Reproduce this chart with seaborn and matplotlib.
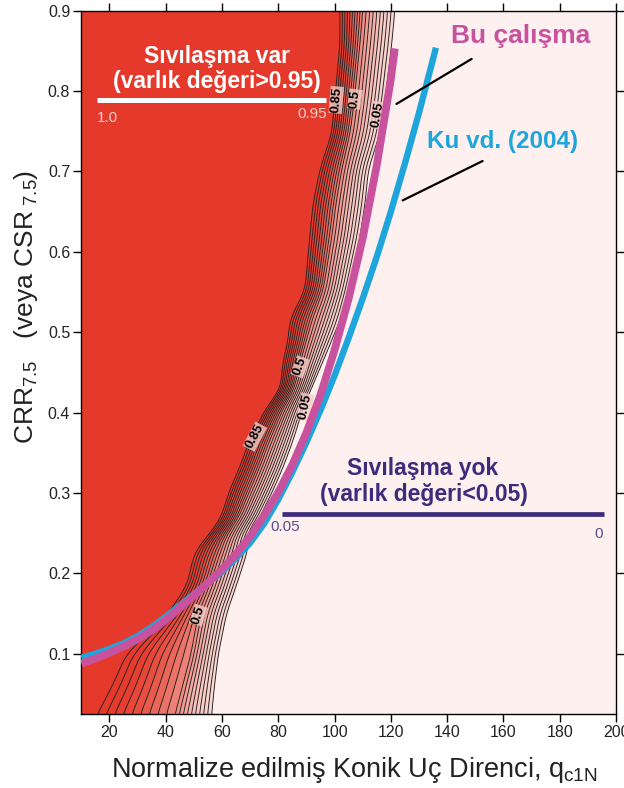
import numpy as np
import pandas as pd
import matplotlib
matplotlib.use("Agg")
import matplotlib.pyplot as plt
import seaborn as sns
from matplotlib.colors import to_rgb

# ---------------- data ----------------
# probability band: CRR level, q at P=0.95 (left edge), P=0.5, P=0.05 (right edge)
band_crr = [0.02, 0.06, 0.10, 0.15, 0.184, 0.227, 0.25, 0.2665, 0.304, 0.333, 0.366, 0.407,
            0.428, 0.465, 0.49, 0.515, 0.553, 0.619, 0.66, 0.702, 0.748, 0.789, 0.859, 0.90]
band_q95 = [15.0, 21.0, 26.1, 40.9, 47.4, 50.4, 55.7, 59.3, 62.8, 66.4, 69.9, 75.9,
            80.6, 81.8, 83.5, 84.1, 89.5, 91.2, 92.4, 94.8, 99.0, 100.1, 101.9, 101.9]
band_q50 = [43.0, 46.0, 49.0, 51.6, 55.5, 59.5, 62.0, 65.5, 70.0, 73.5, 77.0, 82.0,
            85.5, 88.0, 90.0, 92.0, 96.0, 99.0, 100.5, 102.5, 105.5, 107.0, 109.0, 110.0]
band_q05 = [56.2, 57.3, 58.7, 61.6, 65.0, 69.0, 69.8, 72.9, 78.2, 81.8, 85.3, 88.9,
            91.5, 96.0, 99.0, 101.9, 104.8, 109.0, 110.8, 112.0, 116.1, 117.9, 120.3, 121.4]

# curves
bu_q = [10, 15, 20, 25, 30, 35, 40, 45, 50, 55, 60, 65, 70, 75, 80, 85, 90, 95,
        100, 105, 110, 115, 120, 121.4]
bu_crr = [0.088, 0.094, 0.101, 0.109, 0.118, 0.129, 0.142, 0.157, 0.172, 0.188, 0.205,
          0.224, 0.246, 0.272, 0.301, 0.335, 0.375, 0.422, 0.478, 0.542, 0.617, 0.708,
          0.815, 0.853]
ku_q = [10, 15, 20, 25, 30, 35, 40, 45, 50, 55, 60, 65, 70, 75, 80, 85, 90, 95,
        100, 105, 110, 115, 120, 125, 130, 135, 136]
ku_crr = [0.095, 0.100, 0.106, 0.113, 0.122, 0.133, 0.146, 0.160, 0.174, 0.188, 0.202,
          0.219, 0.238, 0.262, 0.292, 0.326, 0.363, 0.403, 0.446, 0.493, 0.542, 0.594,
          0.650, 0.710, 0.773, 0.840, 0.854]

# contour labels (text, q, crr, angle)
clab_text = ["0.85", "0.5", "0.05", "0.85", "0.5", "0.05", "0.5"]
clab_q = [100.6, 107.2, 115.4, 71.7, 87.7, 89.5, 51.6]
clab_crr = [0.789, 0.790, 0.770, 0.370, 0.457, 0.407, 0.148]
clab_rot = [85, 82, 80, 62, 70, 78, 73]

# legend bars
var_bar_q = [15.5, 96.9]
var_bar_crr = [0.789, 0.789]
yok_bar_q = [81.2, 195.7]
yok_bar_crr = [0.274, 0.274]

# pointer lines
bu_ptr_q = [122.0, 148.7]
bu_ptr_crr = [0.784, 0.840]
ku_ptr_q = [124.2, 152.6]
ku_ptr_crr = [0.664, 0.713]

x_ticks = [20, 40, 60, 80, 100, 120, 140, 160, 180, 200]
y_ticks = [0.1, 0.2, 0.3, 0.4, 0.5, 0.6, 0.7, 0.8, 0.9]
levels = [0.05, 0.10, 0.15, 0.20, 0.25, 0.30, 0.35, 0.40, 0.45, 0.50,
          0.55, 0.60, 0.65, 0.70, 0.75, 0.80, 0.85, 0.90, 0.95]

RED = "#e5392b"
PINK = "#fdf0ef"
MAG = "#c9529f"
CYAN = "#1ea5dc"
PURP = "#3d2b7c"

# ---------------- style ----------------
sns.set_theme(style="ticks")
plt.rcParams["font.family"] = ["Liberation Sans", "DejaVu Sans"]
plt.rcParams["mathtext.fontset"] = "custom"
plt.rcParams["mathtext.rm"] = "Liberation Sans"
plt.rcParams["mathtext.it"] = "Liberation Sans"
plt.rcParams["mathtext.bf"] = "Liberation Sans:bold"

fig = plt.figure(figsize=(6.24, 7.88), dpi=100)
L, R, T, B = 81.3, 616.0, 10.7, 714.0
ax = fig.add_axes([L / 624, 1 - B / 788, (R - L) / 624, (B - T) / 788])

# ---------------- probability field ----------------
qg = np.linspace(10, 200, 1400)
cg = np.linspace(0.0, 0.92, 700)


def smooth_edge(vals):
    e = np.interp(cg, band_crr, vals)
    k = 21
    w = np.ones(k) / k
    pad = np.pad(e, k // 2, mode="edge")
    return np.convolve(pad, w, mode="valid")


xl = smooth_edge(band_q95)
xm = smooth_edge(band_q50)
xr = smooth_edge(band_q05)
P = np.empty((cg.size, qg.size))
for i in range(cg.size):
    P[i] = np.interp(qg, [xl[i] - 2.0, xl[i], xm[i], xr[i], xr[i] + 2.0],
                     [1.0, 0.95, 0.5, 0.05, 0.0])

fill_levels = [0.0] + levels + [1.0001]
c0 = np.array(to_rgb("#f8d6d1"))
c1 = np.array(to_rgb(RED))
cols = [PINK]
n = len(levels) - 1
for k in range(n):
    t = k / (n - 1)
    t = t * t * (3 - 2 * t)
    cols.append(tuple(c0 * (1 - t) + c1 * t))
cols.append(RED)
ax.contourf(qg, cg, P, levels=fill_levels, colors=cols, zorder=0, antialiased=True)
ax.contour(qg, cg, P, levels=levels, colors="#221a1a", linewidths=0.65, zorder=1)

for t, q, c, r in zip(clab_text, clab_q, clab_crr, clab_rot):
    ax.text(q, c, t, rotation=r, ha="center", va="center", fontsize=9.5,
            fontweight="bold", color="black", zorder=2,
            bbox=dict(boxstyle="square,pad=0.05", fc="#f6cdc8", ec="none", alpha=0.8))

# ---------------- curves ----------------
sns.lineplot(x=ku_q, y=ku_crr, ax=ax, color=CYAN, lw=4.6, sort=False, estimator=None,
             solid_capstyle="butt", zorder=3)
sns.lineplot(x=bu_q, y=bu_crr, ax=ax, color=MAG, lw=5.6, sort=False, estimator=None,
             solid_capstyle="butt", zorder=3)

ax.plot(bu_ptr_q, bu_ptr_crr, color="black", lw=1.6, zorder=4)
ax.plot(ku_ptr_q, ku_ptr_crr, color="black", lw=1.6, zorder=4)

# ---------------- annotations ----------------
ax.plot(var_bar_q, var_bar_crr, color="white", lw=3.6, solid_capstyle="butt", zorder=4)
ax.text(58.1, 0.843, "Sıvılaşma var", color="white", fontsize=16.5, fontweight="bold",
        ha="center", va="center", zorder=5)
ax.text(58.1, 0.812, "(varlık değeri>0.95)", color="white", fontsize=16.5, fontweight="bold",
        ha="center", va="center", zorder=5)
ax.text(15.6, 0.767, "1.0", color="#f7d2ca", fontsize=11, ha="left", va="center", zorder=5)
ax.text(97.2, 0.772, "0.95", color="#f7d2ca", fontsize=11, ha="right", va="center", zorder=5)

ax.plot(yok_bar_q, yok_bar_crr, color=PURP, lw=3.4, solid_capstyle="butt", zorder=4)
ax.text(131.4, 0.331, "Sıvılaşma yok", color=PURP, fontsize=16.5, fontweight="bold",
        ha="center", va="center", zorder=5)
ax.text(131.7, 0.298, "(varlık değeri<0.05)", color=PURP, fontsize=16.5, fontweight="bold",
        ha="center", va="center", zorder=5)
ax.text(77.3, 0.258, "0.05", color="#5b4d8c", fontsize=11, ha="left", va="center", zorder=5)
ax.text(193.9, 0.249, "0", color="#5b4d8c", fontsize=11, ha="center", va="center", zorder=5)

ax.text(166.2, 0.868, "Bu çalışma", color=MAG, fontsize=19, fontweight="bold",
        ha="center", va="center", zorder=5)
ax.text(159.6, 0.737, "Ku vd. (2004)", color=CYAN, fontsize=17.5, fontweight="bold",
        ha="center", va="center", zorder=5)

# ---------------- axes ----------------
ax.set_xlim(10, 200)
ax.set_ylim(0.025, 0.9)
ax.set_xticks(x_ticks)
ax.set_yticks(y_ticks)
ax.set_xticklabels([str(v) for v in x_ticks])
ax.set_yticklabels([f"{v:.1f}" for v in y_ticks])
ax.tick_params(axis="both", which="both", direction="out", length=6, width=1,
               color="black", top=True, right=True, labeltop=False, labelright=False,
               labelsize=11.5, pad=2)
for lab in ax.get_xticklabels() + ax.get_yticklabels():
    lab.set_family(["Liberation Sans Narrow", "Liberation Sans"])
    lab.set_color("#222222")
for s in ax.spines.values():
    s.set_visible(True)
    s.set_color("black")
    s.set_linewidth(1.0)
ax.set_xlabel("")
ax.set_ylabel("")

fig.text(354 / 624, 1 - 776.7 / 788, r"Normalize edilmiş Konik Uç Direnci, q$_{\mathrm{c1N}}$",
         fontsize=19.5, color="#222222", ha="center", va="baseline")
fig.text(26 / 624, 1 - 307 / 788, r"CRR$_{\mathrm{7.5}}$   (veya CSR$_{\mathrm{\ 7.5}}$)",
         fontsize=19, color="#222222", rotation=90, ha="center", va="center")

fig.savefig("out.png", dpi=100)
